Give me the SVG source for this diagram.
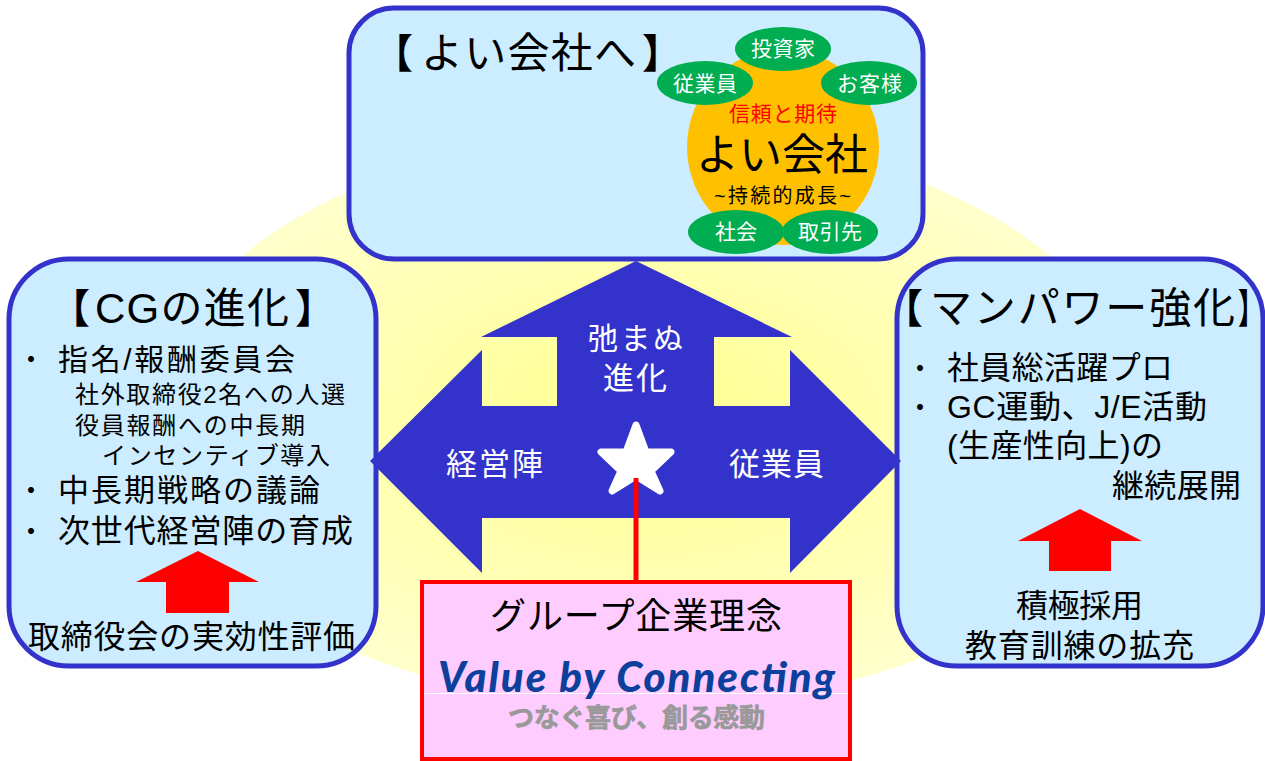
<svg xmlns="http://www.w3.org/2000/svg" width="1265" height="761" viewBox="0 0 1265 761">
<style>
text{font-family:"Liberation Sans","Noto Sans CJK JP",sans-serif;fill:#000}
.w{fill:#fff}
.box{fill:#CCECFF;stroke:#3333CC;stroke-width:5}
.pill{fill:#00AD50}
.up{fill:#FF0000}
.br{font-weight:700}
</style>
<defs><radialGradient id="glow"><stop offset="0" stop-color="#FFFF8F"/><stop offset="1" stop-color="#FFFFCC"/></radialGradient></defs>
<rect width="1265" height="761" fill="#fff"/>
<ellipse id="backdrop" cx="646" cy="420" rx="492" ry="287" fill="url(#glow)"/>
<g id="node-top">
<rect class="box" x="349" y="8" width="574" height="251" rx="45"/>
<text class="br" x="373" y="68" font-size="40">【</text>
<text x="421" y="68" font-size="42" textLength="215">よい会社へ</text>
<text class="br" x="642" y="68" font-size="40">】</text>
<ellipse cx="783" cy="147" rx="96" ry="98" fill="#FFC000"/>
<ellipse class="pill" cx="783" cy="49" rx="48" ry="22"/>
<ellipse class="pill" cx="705" cy="83" rx="48" ry="22"/>
<ellipse class="pill" cx="869" cy="83" rx="48" ry="22"/>
<ellipse class="pill" cx="736" cy="232" rx="48" ry="22"/>
<ellipse class="pill" cx="830" cy="232" rx="48" ry="22"/>
<text class="w" x="751" y="56" font-size="21" textLength="64">投資家</text>
<text class="w" x="673" y="91" font-size="21" textLength="64">従業員</text>
<text class="w" x="837" y="91" font-size="21" textLength="65">お客様</text>
<text class="w" x="715" y="239" font-size="21" textLength="42">社会</text>
<text class="w" x="798" y="239" font-size="21" textLength="64">取引先</text>
<text x="729" y="121" font-size="21" textLength="108" style="fill:#FF0000">信頼と期待</text>
<text x="696" y="170" font-size="43" textLength="172">よい会社</text>
<text x="714" y="203" font-size="20" textLength="137">~持続的成長~</text>
</g>
<g id="node-left">
<rect class="box" x="9" y="259" width="367" height="407" rx="60"/>
<text class="br" x="50" y="323" font-size="40">【</text>
<text x="95" y="323" font-size="42" textLength="194">CGの進化</text>
<text class="br" x="295" y="323" font-size="40">】</text>
<text x="17" y="370" font-size="28">・</text>
<text x="58" y="370" font-size="30" textLength="237">指名/報酬委員会</text>
<text x="75" y="403" font-size="24" textLength="270">社外取締役2名への人選</text>
<text x="75" y="434" font-size="24" textLength="230">役員報酬への中長期</text>
<text x="102" y="464" font-size="24" textLength="228">インセンティブ導入</text>
<text x="17" y="501" font-size="28">・</text>
<text x="58" y="501" font-size="31" textLength="262">中長期戦略の議論</text>
<text x="17" y="542" font-size="28">・</text>
<text x="58" y="542" font-size="32" textLength="295">次世代経営陣の育成</text>
<polygon class="up" points="198,551 259,582 229,582 229,613 166,613 166,582 136,582"/>
<text x="28" y="648" font-size="32" textLength="327">取締役会の実効性評価</text>
</g>
<g id="node-right">
<rect class="box" x="897" y="259" width="366" height="407" rx="60"/>
<text class="br" x="883" y="323" font-size="40">【</text>
<text x="930" y="323" font-size="42" textLength="305">マンパワー強化</text>
<text class="br" transform="translate(1238,323) scale(1,1.54)" font-size="26">】</text>
<text x="906" y="379" font-size="28">・</text>
<text x="947" y="379" font-size="32" textLength="226">社員総活躍プロ</text>
<text x="906" y="418" font-size="28">・</text>
<text x="947" y="418" font-size="32" textLength="260">GC運動、J/E活動</text>
<text x="947" y="457" font-size="32" textLength="216">(生産性向上)の</text>
<text x="1112" y="497" font-size="32" textLength="129">継続展開</text>
<polygon class="up" points="1080,509 1142,541 1111,541 1111,571 1049,571 1049,541 1018,541"/>
<text x="1016" y="617" font-size="32" textLength="127">積極採用</text>
<text x="965" y="657" font-size="32" textLength="229">教育訓練の拡充</text>
</g>
<g id="center-arrows">
<polygon fill="#3333CC" points="636,261 792,337 714,337 714,406 790,406 790,350 901,461 790,573 790,518 482,518 482,573 370,461 482,350 482,406 557,406 557,337 481,337"/>
<polygon fill="#fff" stroke="#fff" stroke-width="7" stroke-linejoin="round" points="636,425 646,452 671,452 651,471 660,491 636,476 612,491 621,471 601,452 626,452"/>
<text class="w" x="588" y="349" font-size="30" textLength="95">弛まぬ</text>
<text class="w" x="603" y="389" font-size="31" textLength="64">進化</text>
<text class="w" x="446" y="475" font-size="31" textLength="97">経営陣</text>
<text class="w" x="729" y="475" font-size="31" textLength="95">従業員</text>
</g>
<g id="connectors"><line x1="636" y1="478" x2="636" y2="582" stroke="#FF0000" stroke-width="5"/></g>
<g id="node-bottom">
<rect x="422" y="582" width="428" height="177" fill="#FFCCFF" stroke="#FF0000" stroke-width="4"/>
<line x1="424" y1="693.500" x2="848" y2="693.500" stroke="#fff" stroke-width="1"/>
<text x="490" y="629" font-size="36" textLength="292">グループ企業理念</text>
<text x="438" y="692" font-size="42" font-weight="900" font-style="italic" textLength="397" style="fill:#0B409C;font-family:'Lato','DejaVu Sans',sans-serif">Value by Connecting</text>
<text x="508" y="727" font-size="26" font-weight="700" textLength="257" style="fill:#999;stroke:#999;stroke-width:.6">つなぐ喜び、創る感動</text>
</g>
</svg>
